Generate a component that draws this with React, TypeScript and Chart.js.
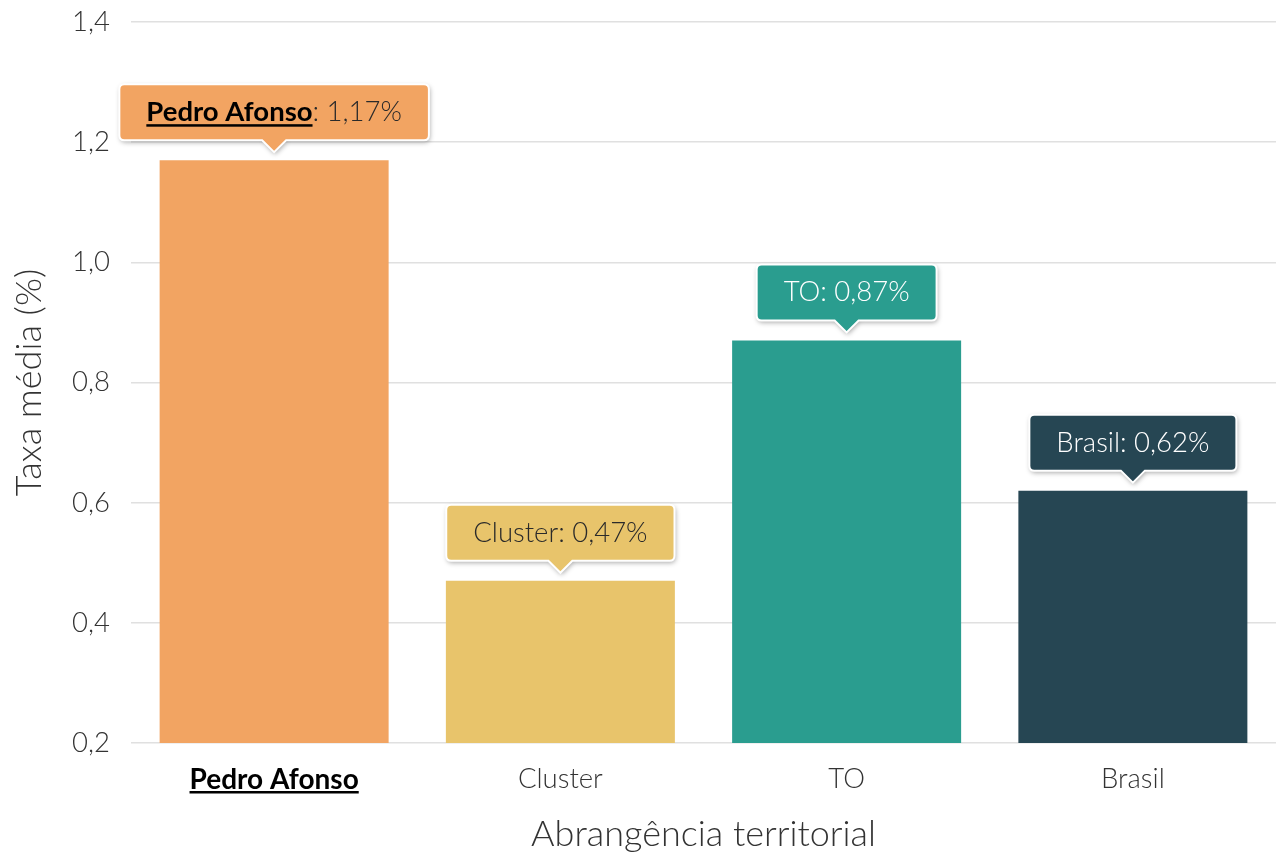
import React, { useEffect, useRef } from "react";
import { Chart, registerables } from "chart.js";

Chart.register(...registerables);

const categories = ["Pedro Afonso", "Cluster", "TO", "Brasil"];
const values = [1.17, 0.47, 0.87, 0.62];
const barColors = ["#F2A462", "#E8C46B", "#2A9D8F", "#264653"];
const labelTextColors = ["#2a2a2a", "#2a2a2a", "#ffffff", "#ffffff"];
const yTicks = [0.2, 0.4, 0.6, 0.8, 1.0, 1.2, 1.4];
const highlightIndex = 0;

const FONT = "Lato, 'Open Sans', sans-serif";
const LBL = 27.5;
const fmt = (v: number, d: number) => v.toFixed(d).replace(".", ",");

const calloutPlugin = {
  id: "callouts",
  afterDatasetsDraw(chart: any) {
    const ctx = chart.ctx as CanvasRenderingContext2D;
    const meta = chart.getDatasetMeta(0);
    meta.data.forEach((bar: any, i: number) => {
      const x = bar.x;
      const tip = bar.y - 8;
      const ph = 12;
      const pw = 12;
      const bh = 56;
      const bottom = tip - ph;
      const top = bottom - bh;
      const name = categories[i];
      const rest = ": " + fmt(values[i], 2) + "%";
      const bold = i === highlightIndex;
      ctx.save();
      ctx.font = (bold ? "bold " : "300 ") + LBL + "px " + FONT;
      const w1 = ctx.measureText(name).width;
      ctx.font = "300 " + LBL + "px " + FONT;
      const w2 = ctx.measureText(rest).width;
      const tw = w1 + w2;
      const bw = tw + 54;
      const left = x - bw / 2;
      const right = x + bw / 2;
      const r = 5;
      ctx.beginPath();
      ctx.moveTo(left + r, top);
      ctx.lineTo(right - r, top);
      ctx.quadraticCurveTo(right, top, right, top + r);
      ctx.lineTo(right, bottom - r);
      ctx.quadraticCurveTo(right, bottom, right - r, bottom);
      ctx.lineTo(x + pw, bottom);
      ctx.lineTo(x, tip);
      ctx.lineTo(x - pw, bottom);
      ctx.lineTo(left + r, bottom);
      ctx.quadraticCurveTo(left, bottom, left, bottom - r);
      ctx.lineTo(left, top + r);
      ctx.quadraticCurveTo(left, top, left + r, top);
      ctx.closePath();
      ctx.save();
      ctx.shadowColor = "rgba(0,0,0,0.35)";
      ctx.shadowBlur = 5;
      ctx.shadowOffsetX = 1;
      ctx.shadowOffsetY = 2;
      ctx.fillStyle = barColors[i];
      ctx.fill();
      ctx.restore();
      ctx.lineWidth = 2;
      ctx.strokeStyle = "#ffffff";
      ctx.stroke();
      const cy = (top + bottom) / 2;
      const sx = x - tw / 2;
      ctx.textBaseline = "middle";
      ctx.textAlign = "left";
      if (bold) {
        ctx.font = "bold " + LBL + "px " + FONT;
        ctx.fillStyle = "#000000";
        ctx.fillText(name, sx, cy);
        ctx.fillRect(sx, cy + 12, w1, 2.5);
        ctx.font = "300 " + LBL + "px " + FONT;
        ctx.fillStyle = labelTextColors[i];
        ctx.fillText(rest, sx + w1, cy);
      } else {
        ctx.font = "300 " + LBL + "px " + FONT;
        ctx.fillStyle = labelTextColors[i];
        ctx.fillText(name + rest, sx, cy);
      }
      ctx.restore();
    });
  },
  afterDraw(chart: any) {
    const ctx = chart.ctx as CanvasRenderingContext2D;
    const xs = chart.scales.x;
    const x = xs.getPixelForTick(highlightIndex);
    ctx.save();
    ctx.font = "bold 28px " + FONT;
    const w = ctx.measureText(categories[highlightIndex]).width;
    ctx.fillStyle = "#000000";
    ctx.fillRect(x - w / 2, 791, w, 2.5);
    ctx.restore();
  },
};

export default function App() {
  const ref = useRef<HTMLCanvasElement | null>(null);
  useEffect(() => {
    if (!ref.current) return;
    const chart = new Chart(ref.current, {
      type: "bar",
      data: {
        labels: categories,
        datasets: [
          {
            data: values,
            backgroundColor: barColors,
            borderWidth: 0,
            barPercentage: 0.8,
            categoryPercentage: 1.0,
          },
        ],
      },
      options: {
        responsive: false,
        animation: false,
        layout: { padding: { top: 22, right: 0, left: 0, bottom: 0 } },
        plugins: {
          legend: { display: false },
          tooltip: { enabled: false },
        },
        scales: {
          x: {
            grid: { display: false, drawTicks: false },
            border: { display: false },
            ticks: {
              padding: 20,
              color: (c: any) => (c.index === highlightIndex ? "#000000" : "#333333"),
              font: (c: any) =>
                c.index === highlightIndex
                  ? { family: FONT, size: 28, weight: "bold" }
                  : { family: FONT, size: 27.5, weight: "300" },
            },
            title: {
              display: true,
              text: "Abrangência territorial",
              color: "#333333",
              font: { family: FONT, size: 36, weight: "300" },
              padding: { top: 0, bottom: 0 },
            },
            afterFit: (s: any) => {
              s.height = 113;
              s.paddingLeft = 0;
              s.paddingRight = 0;
            },
          },
          y: {
            min: 0.2,
            max: 1.4,
            afterBuildTicks: (s: any) => {
              s.ticks = yTicks.map((v) => ({ value: v }));
            },
            grid: { color: "#e0e0e0", lineWidth: 1.5, drawTicks: false },
            border: { display: false },
            ticks: {
              padding: 21,
              color: "#333333",
              font: { family: FONT, size: 27.5, weight: "300" },
              callback: (v: any) => fmt(Number(v), 1),
            },
            title: {
              display: true,
              text: "Taxa média (%)",
              color: "#333333",
              font: { family: FONT, size: 36, weight: "300" },
              padding: { top: 8, bottom: 0 },
            },
            afterFit: (s: any) => {
              s.width = 131;
              s.paddingTop = 0;
              s.paddingBottom = 0;
            },
          },
        },
      },
      plugins: [calloutPlugin],
    });
    return () => chart.destroy();
  }, []);
  return (
    <div style={{ position: "absolute", left: 0, top: 0, width: 1276, height: 856, background: "#fff" }}>
      <canvas ref={ref} width={1276} height={856} />
    </div>
  );
}
